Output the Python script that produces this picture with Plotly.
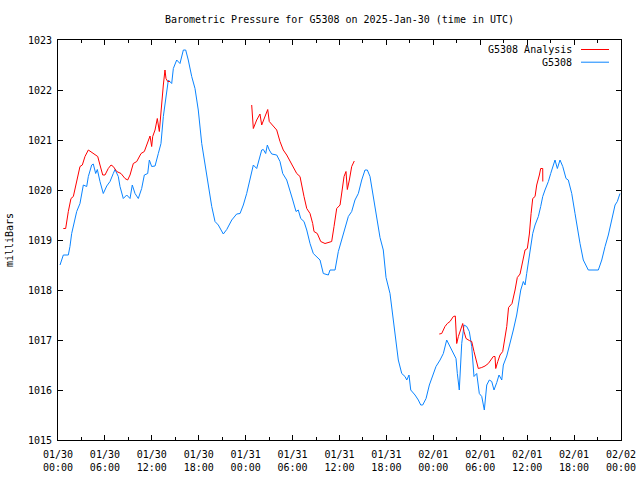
import pandas as pd
import plotly.graph_objects as go

# ---------------- data ----------------
START = "2025-01-30 00:00"

# G5308 observations: hours since START, pressure (mb)
obs_hours = [0.26, 0.68, 1.32, 1.53, 1.75, 1.96, 2.39, 2.81, 3.24, 3.67, 3.88, 4.31, 4.51, 4.82, 5.03,
             5.37, 5.79, 6.23, 6.65, 7.07, 7.29, 7.71, 7.93, 8.35, 8.79, 9.21, 9.50, 9.85, 10.27, 10.70,
             11.04, 11.47, 11.68, 11.98, 12.41, 12.83, 13.17, 13.47, 13.90, 14.11, 14.54, 14.75, 15.18,
             15.60, 16.03, 16.33, 16.66, 17.10, 17.52, 17.94, 18.38, 18.80, 19.22, 19.66, 20.08, 20.50,
             21.14, 21.58, 22.22, 22.85, 23.28, 23.70, 24.13, 24.56, 24.98, 25.41, 26.05, 26.26, 26.56,
             26.77, 27.02, 27.33, 27.97, 28.39, 28.74, 29.25, 29.67, 30.02, 30.44, 30.73, 31.04, 31.46,
             31.81, 32.23, 32.65, 33.09, 33.51, 33.93, 34.57, 34.79, 35.43, 35.85, 36.28, 36.71, 37.13,
             37.56, 37.98, 38.41, 38.84, 39.26, 39.56, 39.90, 40.32, 40.76, 41.18, 41.60, 41.95, 42.46,
             42.80, 43.23, 43.52, 43.96, 44.38, 44.60, 44.89, 45.11, 45.66, 46.08, 46.39, 46.64, 47.07,
             47.49, 47.92, 48.34, 48.86, 49.28, 49.71, 50.13, 50.56, 50.90, 51.07, 51.32, 51.63, 51.92,
             52.27, 52.60, 52.91, 53.20, 53.55, 53.88, 54.19, 54.52, 54.83, 55.16, 55.47, 55.76, 56.11,
             56.40, 56.75, 56.95, 57.39, 57.81, 58.23, 58.66, 58.87, 59.18, 59.51, 59.73, 59.94, 60.36,
             60.71, 61.01, 61.43, 61.73, 61.99, 62.28, 62.71, 63.01, 63.35, 63.56, 63.86, 64.20, 64.55,
             64.97, 65.26, 65.70, 66.12, 66.42, 66.76, 67.18, 67.53, 67.82, 69.10, 69.54, 69.96, 70.38,
             70.81, 71.24, 71.53, 71.87]
obs_mb = [1018.5, 1018.7, 1018.7, 1018.87, 1019.13, 1019.3, 1019.57, 1019.73, 1020.1, 1020.07, 1020.27,
          1020.5, 1020.52, 1020.33, 1020.41, 1020.17, 1019.93, 1020.08, 1020.17, 1020.33, 1020.41,
          1020.27, 1020.07, 1019.83, 1019.9, 1019.83, 1020.1, 1019.93, 1019.83, 1020.03, 1020.3,
          1020.33, 1020.6, 1020.47, 1020.48, 1020.73, 1020.93, 1021.47, 1022.0, 1022.2, 1022.13,
          1022.43, 1022.6, 1022.53, 1022.8, 1022.8, 1022.6, 1022.27, 1022.03, 1021.6, 1020.93,
          1020.53, 1020.13, 1019.67, 1019.37, 1019.3, 1019.12, 1019.21, 1019.4, 1019.52, 1019.53,
          1019.7, 1019.93, 1020.25, 1020.5, 1020.43, 1020.8, 1020.81, 1020.73, 1020.9, 1020.8,
          1020.72, 1020.7, 1020.57, 1020.33, 1020.2, 1020.0, 1019.8, 1019.57, 1019.6, 1019.43,
          1019.37, 1019.2, 1018.93, 1018.73, 1018.67, 1018.6, 1018.33, 1018.3, 1018.4, 1018.4,
          1018.77, 1019.0, 1019.2, 1019.47, 1019.57, 1019.8, 1019.93, 1020.2, 1020.4, 1020.4,
          1020.27, 1019.87, 1019.47, 1019.05, 1018.8, 1018.25, 1017.93, 1017.47, 1016.93, 1016.6,
          1016.33, 1016.27, 1016.2, 1016.3, 1016.0, 1015.9, 1015.8, 1015.7, 1015.7, 1015.83,
          1016.1, 1016.27, 1016.47, 1016.6, 1016.73, 1017.0, 1016.87, 1016.73, 1016.63, 1016.33,
          1016.0, 1016.93, 1017.3, 1017.27, 1017.17, 1016.87, 1016.27, 1016.33, 1015.93, 1015.87,
          1015.6, 1016.1, 1016.2, 1016.17, 1016.0, 1016.15, 1016.3, 1016.2, 1016.5, 1016.68,
          1016.93, 1017.2, 1017.5, 1017.67, 1018.0, 1018.17, 1018.1, 1018.33, 1018.78, 1019.13,
          1019.3, 1019.47, 1019.67, 1019.87, 1020.0, 1020.17, 1020.33, 1020.53, 1020.6, 1020.43,
          1020.6, 1020.47, 1020.23, 1020.2, 1019.93, 1019.53, 1019.2, 1018.93, 1018.6, 1018.5,
          1018.4, 1018.4, 1018.6, 1018.87, 1019.1, 1019.4, 1019.7, 1019.77, 1019.93]

# G5308 Analysis: three segments separated by gaps (None)
ana_hours = [0.68, 0.98, 1.32, 1.66, 1.96, 2.39, 2.81, 3.11, 3.45, 3.88, 4.31, 4.73, 5.08, 5.37, 5.72,
             6.01, 6.43, 6.78, 7.07, 7.51, 8.06, 8.57, 8.91, 9.21, 9.63, 10.07, 10.62, 11.04, 11.47,
             11.77, 11.98, 12.11, 12.41, 12.70, 12.96, 13.17, 13.47, 13.68, 13.81, 14.03, 14.32,
             None,
             24.77, 24.90, 24.98, 25.41, 25.83, 26.05, 26.47, 26.82, 27.02, 27.54, 27.97, 28.39, 28.81,
             29.25, 29.67, 30.09, 30.53, 30.95, 31.17, 31.46, 31.81, 32.23, 32.57, 32.74, 33.16, 33.60,
             34.15, 35.00, 35.30, 35.64, 36.07, 36.32, 36.58, 36.83, 37.00, 37.26, 37.56, 37.89,
             None,
             48.76, 49.07, 49.49, 49.79, 50.13, 50.56, 50.81, 50.90, 50.99, 51.20, 51.50, 51.76, 51.92,
             52.18, 52.60, 52.91, 53.20, 53.46, 53.75, 54.19, 54.61, 55.03, 55.34, 55.67, 55.89, 55.98,
             56.24, 56.53, 56.87, 57.17, 57.39, 57.62, 58.06, 58.45, 58.74, 59.09, 59.43, 59.73, 60.02,
             60.28, 60.50, 60.71, 61.01, 61.22, 61.56, 61.73, 61.99, 62.00]
ana_mb = [1019.23, 1019.23, 1019.57, 1019.83, 1019.87, 1020.2, 1020.47, 1020.5, 1020.67, 1020.8,
          1020.75, 1020.7, 1020.67, 1020.5, 1020.3, 1020.3, 1020.43, 1020.5, 1020.47, 1020.37,
          1020.33, 1020.23, 1020.2, 1020.3, 1020.53, 1020.57, 1020.73, 1020.77, 1020.93, 1021.08,
          1020.87, 1021.07, 1021.2, 1021.43, 1021.17, 1021.63, 1022.1, 1022.4, 1022.23, 1022.17,
          1022.17,
          None,
          1021.7, 1021.47, 1021.23, 1021.4, 1021.52, 1021.3, 1021.47, 1021.61, 1021.37, 1021.27,
          1021.2, 1020.97, 1020.8, 1020.7, 1020.57, 1020.47, 1020.33, 1020.27, 1020.07, 1019.87,
          1019.63, 1019.53, 1019.33, 1019.17, 1019.13, 1018.97, 1018.93, 1018.97, 1019.27, 1019.63,
          1019.7, 1019.97, 1020.27, 1020.37, 1020.01, 1020.2, 1020.47, 1020.58,
          None,
          1017.12, 1017.13, 1017.27, 1017.33, 1017.37, 1017.47, 1017.48, 1017.2, 1016.93, 1017.07,
          1017.23, 1017.33, 1017.17, 1017.03, 1016.99, 1016.97, 1016.77, 1016.6, 1016.43, 1016.45,
          1016.48, 1016.53, 1016.6, 1016.67, 1016.67, 1016.43, 1016.57, 1016.7, 1016.77, 1017.05,
          1017.27, 1017.65, 1017.73, 1018.0, 1018.25, 1018.32, 1018.6, 1018.8, 1018.83, 1019.12,
          1019.53, 1019.83, 1019.87, 1020.1, 1020.3, 1020.43, 1020.43, 1020.17]

tick_hours = [0, 6, 12, 18, 24, 30, 36, 42, 48, 54, 60, 66, 72]
tick_labels = ["01/30<br>00:00", "01/30<br>06:00", "01/30<br>12:00", "01/30<br>18:00",
               "01/31<br>00:00", "01/31<br>06:00", "01/31<br>12:00", "01/31<br>18:00",
               "02/01<br>00:00", "02/01<br>06:00", "02/01<br>12:00", "02/01<br>18:00",
               "02/02<br>00:00"]
y_ticks = [1015, 1016, 1017, 1018, 1019, 1020, 1021, 1022, 1023]
series_names = ["G5308 Analysis", "G5308"]
series_colors = ["#ff0000", "#0a84ff"]

# ---------------- build ----------------
t0 = pd.Timestamp(START)


def to_time(hours):
    return [None if h is None else t0 + pd.Timedelta(hours=h) for h in hours]


FONT = "DejaVu Sans Mono"
L, R, T, B = 58, 19, 40, 40
PW, PH = 640 - L - R, 480 - T - B

fig = go.Figure()
fig.add_trace(go.Scatter(x=to_time(obs_hours), y=obs_mb, mode="lines", name=series_names[1],
                         line=dict(color=series_colors[1], width=1), connectgaps=False))
fig.add_trace(go.Scatter(x=to_time(ana_hours), y=ana_mb, mode="lines", name=series_names[0],
                         line=dict(color=series_colors[0], width=1), connectgaps=False))

# gnuplot-style key: text right-aligned, sample line to its right
for i, (nm, col) in enumerate(zip(series_names, series_colors)):
    ypix = 9.5 + 12.7 * i
    yp = 1 - ypix / PH
    fig.add_annotation(x=(574 - L) / PW, y=yp, xref="paper", yref="paper", text=nm, showarrow=False,
                       xanchor="right", yanchor="middle", font=dict(family=FONT, size=10, color="black"))
    fig.add_shape(type="line", xref="paper", yref="paper",
                  x0=(581 - L) / PW, x1=(609 - L) / PW, y0=yp, y1=yp,
                  line=dict(color=col, width=1))

fig.update_layout(
    width=640, height=480,
    margin=dict(l=L, r=R, t=T, b=B, autoexpand=False),
    paper_bgcolor="white", plot_bgcolor="white",
    showlegend=False,
    font=dict(family=FONT, size=10, color="black"),
    title=dict(text="Barometric Pressure for G5308 on 2025-Jan-30 (time in UTC)",
               x=0.5, xref="paper", y=1 - 19 / 480, yanchor="middle", automargin=False,
               font=dict(family=FONT, size=10, color="black")),
    xaxis=dict(type="date", automargin=False,
               range=[t0, t0 + pd.Timedelta(hours=72)],
               tickvals=to_time(tick_hours), ticktext=tick_labels,
               ticks="inside", ticklen=5, tickcolor="black", tickwidth=1,
               ticklabelstandoff=5,
               minor=dict(ticks="inside", ticklen=3, dtick=3 * 3600 * 1000, tickcolor="black"),
               showline=True, linecolor="black", linewidth=1, mirror="ticks",
               showgrid=False, zeroline=False,
               tickfont=dict(family=FONT, size=10)),
    yaxis=dict(range=[1015, 1023], tickvals=y_ticks, ticktext=[str(v) for v in y_ticks],
               automargin=False,
               ticks="inside", ticklen=5, tickcolor="black", tickwidth=1,
               ticklabelstandoff=3,
               showline=True, linecolor="black", linewidth=1, mirror="ticks",
               showgrid=False, zeroline=False,
               title=dict(text="milliBars", standoff=12, font=dict(family=FONT, size=10)),
               tickfont=dict(family=FONT, size=10)),
)

fig.write_html("out.html", config={"displayModeBar": False},
               post_script="document.body.style.margin='0px';")
